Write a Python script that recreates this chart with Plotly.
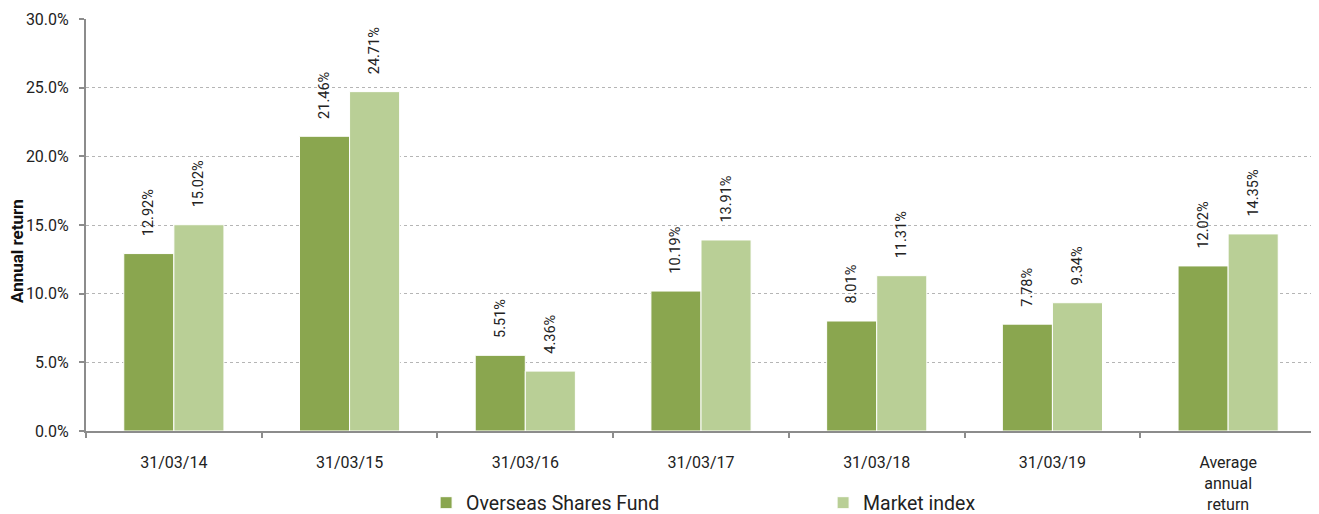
import plotly.graph_objects as go

categories = ["31/03/14", "31/03/15", "31/03/16", "31/03/17", "31/03/18", "31/03/19", "Average<br>annual<br>return"]
fund = [12.92, 21.46, 5.51, 10.19, 8.01, 7.78, 12.02]
index = [15.02, 24.71, 4.36, 13.91, 11.31, 9.34, 14.35]
series_names = ["Overseas Shares Fund", "Market index"]
y_ticks = [0, 5, 10, 15, 20, 25, 30]

colors = ["#8aa64f", "#b9cf96"]
pad = "\u00a0" * 4
# page body has an 8px default margin, so the figure is sized to fill the rest of the window
W, H = 1311, 506
fig = go.Figure()
for name, vals, col in zip(series_names, [fund, index], colors):
    fig.add_trace(go.Bar(
        x=categories, y=vals, name=name,
        marker=dict(color=col, line=dict(color="white", width=1)),
        text=[f"{pad}{v:.2f}%" for v in vals],
        textposition="outside", textangle=-90, constraintext="none",
        textfont=dict(family="Roboto", size=14.5, color="#222"),
        cliponaxis=False,
    ))

fig.update_layout(
    width=W, height=H,
    margin=dict(l=78, r=3, t=11, b=83, autoexpand=False),
    paper_bgcolor="white", plot_bgcolor="white",
    barmode="group", bargap=0.43, bargroupgap=0,
    font=dict(family="Roboto", size=16, color="#222"),
    showlegend=True,
    legend=dict(orientation="h", x=0.2765, xanchor="left",
                yref="container", y=(H - 495) / H, yanchor="middle",
                entrywidth=352, entrywidthmode="pixels",
                bgcolor="rgba(0,0,0,0)",
                font=dict(family="Roboto", size=19.5, color="#222"),
                traceorder="normal"),
    annotations=[dict(text="<b>Annual return</b>", textangle=-90, showarrow=False,
                      xref="paper", yref="paper", x=(17 - 86) / 1230, y=(431 - 251) / 412,
                      xanchor="center", yanchor="middle",
                      font=dict(family="Roboto", size=17, color="#111"))],
)
fig.update_yaxes(
    range=[0, 30], tickvals=y_ticks, ticktext=[f"{t:.1f}%" for t in y_ticks],
    showgrid=True, gridcolor="#b5b5b5", griddash="dot", gridwidth=1,
    showline=True, linecolor="#8c8c8c", linewidth=2,
    ticks="outside", ticklen=5, tickcolor="#8c8c8c", tickwidth=2,
    ticklabelstandoff=7,
    tickfont=dict(size=16, color="#222"),
    zeroline=False, automargin=False,
)
fig.update_xaxes(
    showline=True, linecolor="#8c8c8c", linewidth=2,
    ticks="outside", tickson="boundaries", ticklen=5, tickcolor="#8c8c8c", tickwidth=2,
    ticklabelstandoff=16,
    tickfont=dict(size=16, color="#222"), automargin=False,
)
fig.write_html("out.html")
